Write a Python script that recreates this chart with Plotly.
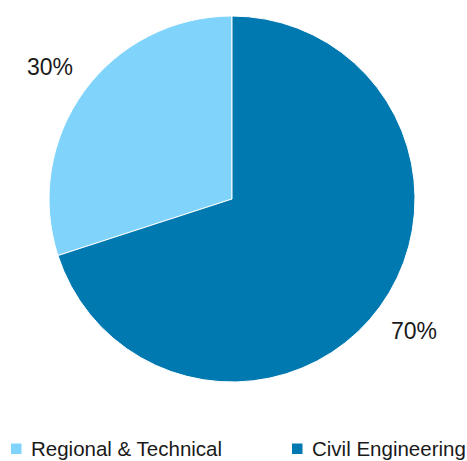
import math
import plotly.graph_objects as go

labels = ["Regional & Technical", "Civil Engineering"]
values = [30, 70]
colors = ["#80D4FC", "#0078B0"]

W, H = 467, 461


def px_x(x):
    return x / W


def px_y(y):
    return 1 - y / H


cx, cy, R = 232, 199, 183
label_r = 225
FONT = "Liberation Sans, Arial, sans-serif"

total = sum(values)
first_deg = values[0] / total * 360

fig = go.Figure()
fig.add_trace(go.Pie(
    labels=labels, values=values, sort=False, direction="counterclockwise",
    rotation=-first_deg, textinfo="none", hoverinfo="label+percent",
    showlegend=False,
    marker=dict(colors=colors, line=dict(color="white", width=1)),
    domain=dict(x=[px_x(cx - R), px_x(cx + R)], y=[px_y(cy + R), px_y(cy - R)]),
))

# percentage labels placed outside each slice, at its mid-angle
start = 0.0
annotations = []
for v in values:
    frac = v / total
    mid = (start + frac / 2) * 2 * math.pi  # counterclockwise from top
    start += frac
    lx = cx - math.sin(mid) * label_r
    ly = cy - math.cos(mid) * label_r
    annotations.append(dict(
        x=px_x(lx), y=px_y(ly), xref="paper", yref="paper",
        text=f"{round(frac * 100)}%", showarrow=False,
        font=dict(family=FONT, size=23, color="#1a1a1a"),
        xanchor="center", yanchor="middle",
    ))

# legend (swatches + text)
legend_x = [11, 292]
legend_y = 448.5
shapes = []
for lx, name, col in zip(legend_x, labels, colors):
    shapes.append(dict(
        type="rect", xref="paper", yref="paper",
        x0=px_x(lx), x1=px_x(lx + 10.5),
        y0=px_y(legend_y + 5.5), y1=px_y(legend_y - 5),
        fillcolor=col, line=dict(width=0),
    ))
    annotations.append(dict(
        x=px_x(lx + 17.5), y=px_y(legend_y), xref="paper", yref="paper",
        text=name, showarrow=False, xanchor="left", yanchor="middle",
        font=dict(family=FONT, size=20.5, color="#1a1a1a"),
    ))

fig.update_layout(
    width=W, height=H, margin=dict(l=0, r=0, t=0, b=0),
    paper_bgcolor="white", plot_bgcolor="white",
    annotations=annotations, shapes=shapes,
    showlegend=False,
)

fig.write_html(
    "out.html",
    config={"displayModeBar": False},
    post_script="document.body.style.margin='0';document.body.style.overflow='hidden';",
)
